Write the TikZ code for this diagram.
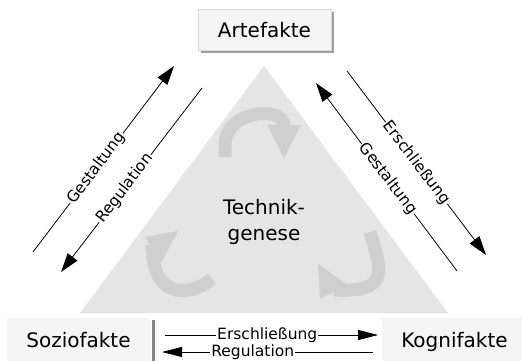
\documentclass[tikz,border=0pt]{standalone}
\usepackage{fontspec}
\setmainfont{DejaVu Sans}
\usetikzlibrary{arrows.meta,shadows}
\definecolor{trigray}{HTML}{E5E5E5}
\definecolor{swirl}{HTML}{CFCFCF}
\definecolor{boxgray}{HTML}{F5F5F5}
\definecolor{sepgray}{HTML}{858585}
\begin{document}
\begin{tikzpicture}[x=1pt,y=-1pt,
  bigtext/.style={font=\fontsize{20}{26}\selectfont},
  lbl/.style={font=\fontsize{15.5}{17}\selectfont, fill=white, inner sep=1pt, sloped},
  thinline/.style={line width=0.8pt, draw=black},
  diagtip/.style={-{Triangle[length=19pt,width=12pt]}},
  flattip/.style={-{Triangle[length=20pt,width=10pt]}},
  swirlband/.style={draw=swirl, line width=13pt},
  facetbox/.style={bigtext, fill=boxgray, inner sep=0pt, text height=14pt, text depth=4pt},
]
\useasboundingbox (0,0) rectangle (522,361);
% central triangle
\fill[trigray] (80,313) -- (264,66) -- (448,313) -- cycle;
% circular swirl arrows
\draw[swirlband] (225,157) -- (225,145) .. controls (225,110) and (284,105) .. (284,126);
\fill[swirl] (267,125) -- (301,125) -- (284,158) -- cycle;
\draw[swirlband] (212,279) .. controls (185,300) and (152,295) .. (152,245);
\fill[swirl] (145,237) -- (178,231) -- (161,263) -- cycle;
\draw[swirlband] (370,232) .. controls (378,262) and (396,294) .. (334,290);
\fill[swirl] (318,264) -- (348,285) -- (320,299) -- cycle;
% nodes
\node[bigtext, align=center] (tech) at (264,222) {Technik-\\genese};
\node[bigtext, fill=boxgray, draw=gray!30, line width=0.5pt, inner sep=0pt,
      minimum width=133pt, minimum height=41pt, text height=17pt, text depth=0pt,
      drop shadow={shadow xshift=3pt, shadow yshift=-3pt, fill=gray!75, opacity=1}]
      (art) at (264.5,29.5) {Artefakte};
\node[facetbox, minimum width=143pt, minimum height=48pt] (soz) at (78.5,342) {Soziofakte};
\node[facetbox, minimum width=145pt, minimum height=48pt] (kog) at (454.5,342) {Kognifakte};
\draw[draw=sepgray, line width=3pt] ([xshift=3pt,yshift=-2pt]soz.north east) -- ([xshift=3pt]soz.south east);
% left pair
\coordinate (lgA) at (33,252);  \coordinate (lgB) at (174,66);
\coordinate (lrA) at (202,88);  \coordinate (lrB) at (61,272);
\draw[thinline, diagtip] (lgA) -- (lgB) node[lbl, pos=0.45] {Gestaltung};
\draw[thinline, diagtip] (lrA) -- (lrB) node[lbl, pos=0.546] {Regulation};
% right pair
\coordinate (rgA) at (457,271); \coordinate (rgB) at (316,83);
\coordinate (reA) at (347,71);  \coordinate (reB) at (486,255);
\draw[thinline, diagtip] (rgA) -- (rgB) node[lbl, pos=0.49] {Gestaltung};
\draw[thinline, diagtip] (reA) -- (reB) node[lbl, pos=0.50] {Erschließung};
% bottom pair
\coordinate (beA) at (165,335); \coordinate (beB) at (378,335);
\coordinate (brA) at (373,352); \coordinate (brB) at (162,352);
\draw[thinline, flattip] (beA) -- (beB) node[lbl, pos=0.48] {Erschließung};
\draw[thinline, flattip] (brA) -- (brB) node[lbl, pos=0.57] {Regulation};
\end{tikzpicture}
\end{document}
